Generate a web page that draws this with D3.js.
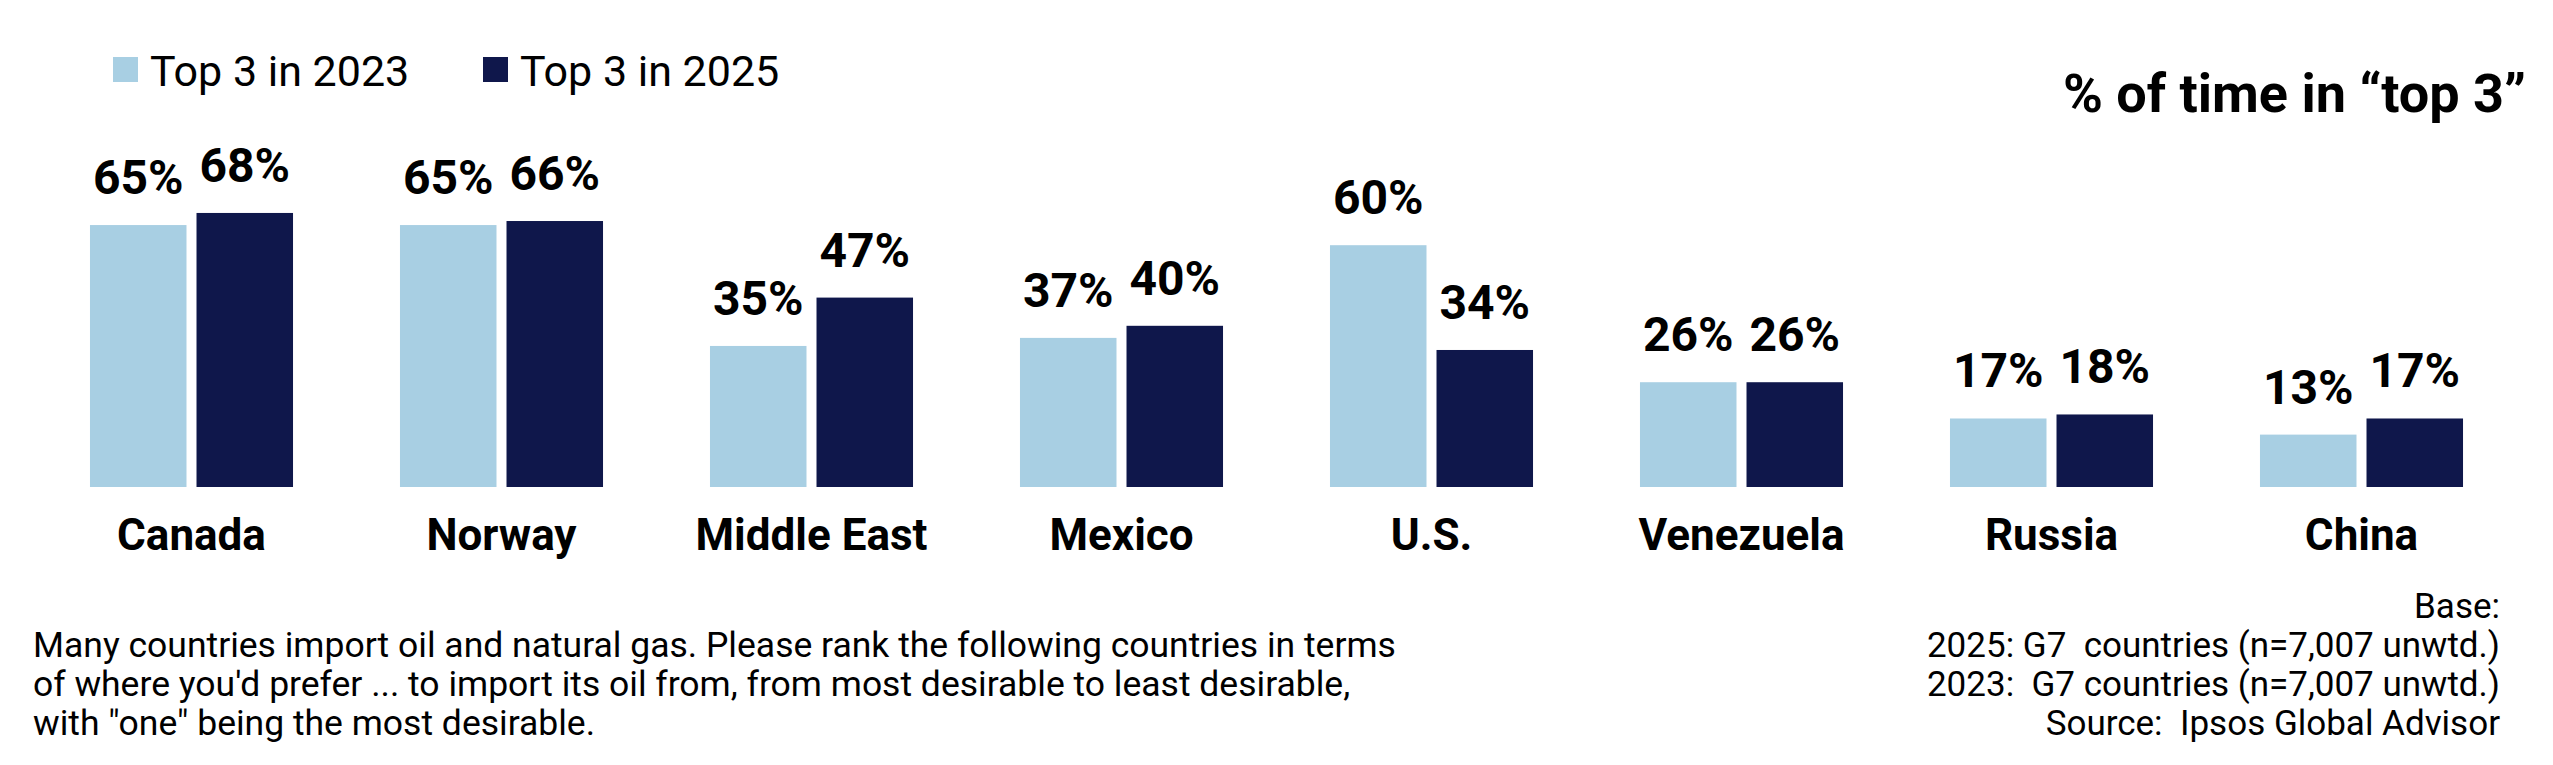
<!DOCTYPE html>
<html>
  <head>
    <script src="https://cdnjs.cloudflare.com/ajax/libs/d3/7.8.5/d3.min.js"></script>
    <style type="text/css">
      body {
        margin: 0;
        padding: 0;
        background: #fff;
      }
      svg text {
        font-family: Roboto, "Noto Sans", sans-serif;
        fill: #000;
      }
    </style>
  </head>
  <body>
    <div id="chart"></div>
    <script type="text/javascript">
    // data
    const countries = ['Canada', 'Norway', 'Middle East', 'Mexico', 'U.S.', 'Venezuela', 'Russia', 'China'];
    const years = ['2023', '2025'];
    const top3in2023 = [65, 65, 35, 37, 60, 26, 17, 13];
    const top3in2025 = [68, 66, 47, 40, 34, 26, 18, 17];
    const legendLabels = ['Top 3 in 2023', 'Top 3 in 2025'];
    const colors = ['#a8cfe3', '#0f174b'];
    const title = '% of time in \u201Ctop 3\u201D';
    const question = [
      'Many countries import oil and natural gas. Please rank the following countries in terms',
      'of where you\'d prefer ... to import its oil from, from most desirable to least desirable,',
      'with "one" being the most desirable.'
    ];
    const baseNote = [
      'Base:',
      '2025: G7\u00A0 countries (n=7,007 unwtd.)',
      '2023: \u00A0G7 countries (n=7,007 unwtd.)',
      'Source: \u00A0Ipsos Global Advisor'
    ];

    const width = 2553, height = 765;
    const svg = d3.select('#chart')
      .append('svg')
      .attr('width', width)
      .attr('height', height);

    const data = countries.map((c, i) => ({
      country: c,
      values: [top3in2023[i], top3in2025[i]]
    }));

    // group scale: step 310, first bar starts at x=90
    const x0 = d3.scaleBand()
      .domain(countries)
      .range([36.5, 36.5 + 310 * countries.length])
      .paddingInner(0.345)
      .paddingOuter(0.1725);
    const x1 = d3.scaleBand()
      .domain(years)
      .range([0, x0.bandwidth()])
      .paddingInner(0.094);
    const y = d3.scaleLinear().domain([0, 100]).range([487, 84]);

    const groups = svg.selectAll('.group')
      .data(data)
      .enter()
      .append('g')
      .attr('class', 'group')
      .attr('transform', d => `translate(${x0(d.country)},0)`);

    groups.selectAll('rect')
      .data(d => d.values.map((v, i) => ({ year: years[i], value: v, i })))
      .enter()
      .append('rect')
      .attr('x', d => x1(d.year))
      .attr('y', d => y(d.value))
      .attr('width', x1.bandwidth())
      .attr('height', d => y(0) - y(d.value))
      .attr('fill', d => colors[d.i]);

    groups.selectAll('.value-label')
      .data(d => d.values.map((v, i) => ({ year: years[i], value: v })))
      .enter()
      .append('text')
      .attr('class', 'value-label')
      .attr('x', d => x1(d.year) + x1.bandwidth() / 2)
      .attr('y', d => y(d.value) - 31)
      .attr('text-anchor', 'middle')
      .attr('font-size', 48)
      .attr('font-weight', 700)
      .text(d => d.value + '%');

    groups.append('text')
      .attr('class', 'cat-label')
      .attr('x', x0.bandwidth() / 2)
      .attr('y', 550)
      .attr('text-anchor', 'middle')
      .attr('font-size', 44)
      .attr('font-weight', 700)
      .text(d => d.country);

    // legend
    const legendX = [113, 483];
    const legend = svg.selectAll('.legend')
      .data(legendLabels)
      .enter()
      .append('g')
      .attr('class', 'legend')
      .attr('transform', (d, i) => `translate(${legendX[i]},0)`);
    legend.append('rect')
      .attr('x', 0)
      .attr('y', 57)
      .attr('width', 25)
      .attr('height', 25)
      .attr('fill', (d, i) => colors[i]);
    legend.append('text')
      .attr('x', 37)
      .attr('y', 86)
      .attr('font-size', 43)
      .text(d => d);

    // title
    svg.append('text')
      .attr('x', 2526)
      .attr('y', 112)
      .attr('text-anchor', 'end')
      .attr('font-size', 54)
      .attr('font-weight', 700)
      .text(title);

    // footnotes
    svg.selectAll('.question')
      .data(question)
      .enter()
      .append('text')
      .attr('class', 'question')
      .attr('x', 33)
      .attr('y', (d, i) => 657 + i * 39)
      .attr('font-size', 35.5)
      .style('white-space', 'pre')
      .text(d => d);

    svg.selectAll('.base')
      .data(baseNote)
      .enter()
      .append('text')
      .attr('class', 'base')
      .attr('x', 2500)
      .attr('y', (d, i) => 618 + i * 39)
      .attr('text-anchor', 'end')
      .attr('font-size', 35)
      .style('white-space', 'pre')
      .text(d => d);
    </script>
  </body>
</html>
